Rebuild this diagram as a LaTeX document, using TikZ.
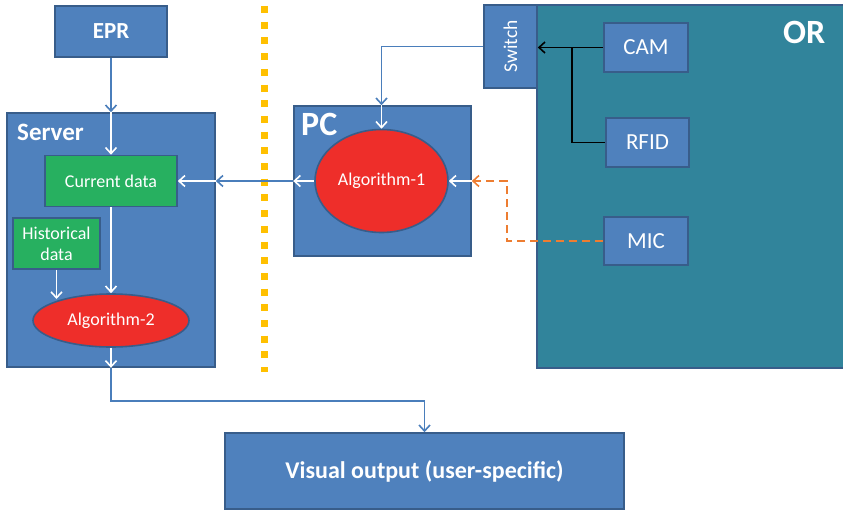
\documentclass[tikz,border=0pt]{standalone}
\usepackage{fontspec}
\setmainfont{Carlito}
\usetikzlibrary{arrows.meta,shapes.geometric}
\definecolor{boxblue}{RGB}{79,129,189}
\definecolor{boxedge}{RGB}{56,93,138}
\definecolor{lineblue}{RGB}{74,126,187}
\definecolor{datagreen}{RGB}{39,176,96}
\definecolor{algred}{RGB}{238,46,42}
\definecolor{orteal}{RGB}{49,132,155}
\definecolor{dashorange}{RGB}{237,125,49}
\definecolor{dotgold}{RGB}{255,192,0}

\begin{document}
\begin{tikzpicture}[x=1pt,y=-1pt,
  tip/.style={-{Straight Barb[length=6pt,width=11pt]}},
  box/.style={draw=boxedge, line width=1.6pt, fill=boxblue, text=white, inner sep=0pt, align=center},
  databox/.style={box, fill=datagreen, font=\fontsize{18}{21}\selectfont},
  algo/.style={ellipse, draw=boxedge, line width=1.6pt, fill=algred, text=white, inner sep=0pt, font=\fontsize{18}{21}\selectfont},
  sensor/.style={box, font=\fontsize{23}{27}\selectfont},
  title/.style={text=white, inner sep=0pt, anchor=base west, font=\bfseries},
  blueline/.style={tip, draw=lineblue, line width=1.6pt},
  whiteline/.style={tip, draw=white, line width=1.6pt},
  blackline/.style={draw=black, line width=1.6pt},
  micline/.style={draw=dashorange, line width=1.6pt, dash pattern=on 8pt off 5pt}
]
\useasboundingbox (0,0) rectangle (843,511);
\clip (0,0) rectangle (843,511);

% operating room area
\fill[orteal] (537,5) rectangle (860,368);
\draw[boxedge, line width=1.6pt] (860,5) -- (537,5) -- (537,368) -- (860,368);
\node[title, font=\bfseries\fontsize{34}{40}\selectfont] (ortitle) at (783,44) {OR};

% separator between sites
\draw[dotgold, line width=7pt, dash pattern=on 7pt off 8.7pt] (264,6) -- (264,372);

% server side
\node[box, minimum width=112pt, minimum height=51pt, font=\bfseries\fontsize{23}{27}\selectfont] (epr) at (111,31.5) {EPR};
\node[box, minimum width=208pt, minimum height=254pt] (server) at (111,240) {};
\node[title, font=\bfseries\fontsize{25}{30}\selectfont] (servertitle) at (17,140) {Server};
\node[databox, minimum width=132pt, minimum height=51pt] (cur) at (111,181) {Current data};
\node[databox, minimum width=87pt, minimum height=51pt] (hist) at (56.5,243.5) {Historical\\data};
\node[algo, minimum width=156pt, minimum height=53pt] (alg2) at (111,320.5) {Algorithm-2};

% PC side
\node[box, minimum width=177pt, minimum height=150pt] (pc) at (382.5,181) {};
\node[title, font=\bfseries\fontsize{34}{40}\selectfont] (pctitle) at (301,135) {PC};
\node[algo, minimum width=133pt, minimum height=103pt] (alg1) at (381.5,181) {Algorithm-1};
\node[box, minimum width=53pt, minimum height=83pt] (sw) at (510.5,46.5) {};
\node[text=white, rotate=90, inner sep=0pt, font=\fontsize{19.5}{23}\selectfont] (swlabel) at (sw.center) {Switch};

% sensors
\node[sensor, minimum width=84pt, minimum height=49pt] (cam) at (646,47.5) {CAM};
\node[sensor, minimum width=83pt, minimum height=49pt] (rfid) at (647.5,142.5) {RFID};
\node[sensor, minimum width=84pt, minimum height=48pt] (mic) at (646,241) {MIC};

% output
\node[box, minimum width=399pt, minimum height=76pt, font=\bfseries\fontsize{24}{29}\selectfont] (vis) at (424.5,471) {Visual output (user-specific)};

% helper points
\coordinate (srvtop) at (epr.south |- server.north);
\coordinate (srvbot) at (alg2.south |- server.south);
\coordinate (srvright) at (server.east |- cur.east);
\coordinate (pctop) at (alg1.north |- pc.north);
\coordinate (pcleft) at (pc.west |- alg1.west);
\coordinate (jn) at (572,47.5);
\coordinate (micx) at (507,0);
\coordinate (histend) at (56.5,299);

% connectors
\draw[blueline] (epr.south) -- (srvtop);
\draw[whiteline] (srvtop) -- (cur.north);
\draw[whiteline] (cur.south) -- (alg2.north);
\draw[whiteline] (hist.south) -- (histend);
\draw[whiteline] (alg2.south) -- (srvbot);
\draw[blueline] (srvbot) -- ++(0,33) -| (vis.north);

\draw[whiteline] (alg1.west) -- (pcleft);
\draw[blueline] (pcleft) -- (srvright);
\draw[whiteline] (srvright) -- (cur.east);

\draw[blueline] (sw.west) -| (pctop);
\draw[whiteline] (pctop) -- (alg1.north);

\draw[blackline, tip] (cam.west) -- (cam.west -| sw.east);
\draw[blackline] (rfid.west) -| (jn);

\draw[micline, tip] (mic.west) -| (micx |- pc.east) -- (pc.east);
\draw[whiteline] (pc.east) -- (alg1.east);
\end{tikzpicture}
\end{document}
